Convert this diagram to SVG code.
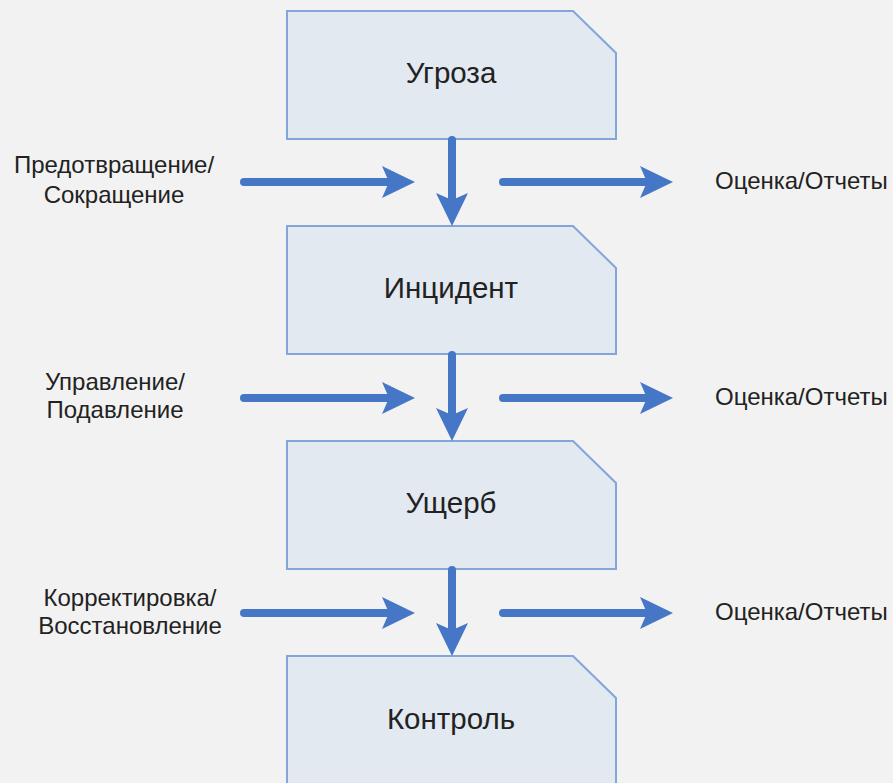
<svg xmlns="http://www.w3.org/2000/svg" width="893" height="783" viewBox="0 0 893 783">
  <style>
    .box { fill: #e2e9f1; stroke: #82a6d9; stroke-width: 2; }
    .title { font-family: "Liberation Sans", Arial, sans-serif; font-size: 29.5px; fill: #222; text-anchor: middle; }
    .lbl { font-family: "Liberation Sans", Arial, sans-serif; font-size: 24px; fill: #222; }
    .side { text-anchor: middle; }
    .conn { stroke: #4677c6; stroke-width: 8; stroke-linecap: round; fill: none; marker-end: url(#head); }
  </style>
  <defs>
    <marker id="head" markerUnits="userSpaceOnUse" markerWidth="34" markerHeight="34" viewBox="0 0 34 32" refX="7" refY="16" orient="auto">
      <path d="M0,0 L33,16 L0,32 L7,16 Z" fill="#4677c6"/>
    </marker>
  </defs>
  <rect width="893" height="783" fill="#f2f2f2"/>

  <g id="node-threat">
    <path class="box" d="M287,11 H573 L616,53 V139 H287 Z"/>
    <text class="title" x="451" y="83">Угроза</text>
  </g>
  <g id="node-incident">
    <path class="box" d="M287,226 H573 L616,268 V354 H287 Z"/>
    <text class="title" x="451" y="298">Инцидент</text>
  </g>
  <g id="node-damage">
    <path class="box" d="M287,441 H573 L616,483 V569 H287 Z"/>
    <text class="title" x="451" y="513">Ущерб</text>
  </g>
  <g id="node-control">
    <path class="box" d="M287,656 H573 L616,698 V800 H287 Z"/>
    <text class="title" x="451" y="729">Контроль</text>
  </g>

  <g id="labels">
    <text class="lbl side" x="114" y="173">Предотвращение/</text>
    <text class="lbl side" x="114" y="203">Сокращение</text>
    <text class="lbl side" x="115" y="390">Управление/</text>
    <text class="lbl side" x="115" y="418">Подавление</text>
    <text class="lbl side" x="130" y="606">Корректировка/</text>
    <text class="lbl side" x="130" y="634">Восстановление</text>
    <text class="lbl" x="715" y="189">Оценка/Отчеты</text>
    <text class="lbl" x="715" y="405">Оценка/Отчеты</text>
    <text class="lbl" x="715" y="620">Оценка/Отчеты</text>
  </g>

  <g id="connectors">
    <line class="conn" x1="452" y1="140" x2="452" y2="200"/>
    <line class="conn" x1="452" y1="355" x2="452" y2="415"/>
    <line class="conn" x1="452" y1="570" x2="452" y2="630"/>
    <line class="conn" x1="244" y1="182" x2="389" y2="182"/>
    <line class="conn" x1="244" y1="398" x2="389" y2="398"/>
    <line class="conn" x1="244" y1="613" x2="389" y2="613"/>
    <line class="conn" x1="503" y1="182" x2="647" y2="182"/>
    <line class="conn" x1="503" y1="398" x2="647" y2="398"/>
    <line class="conn" x1="503" y1="613" x2="647" y2="613"/>
  </g>
</svg>
